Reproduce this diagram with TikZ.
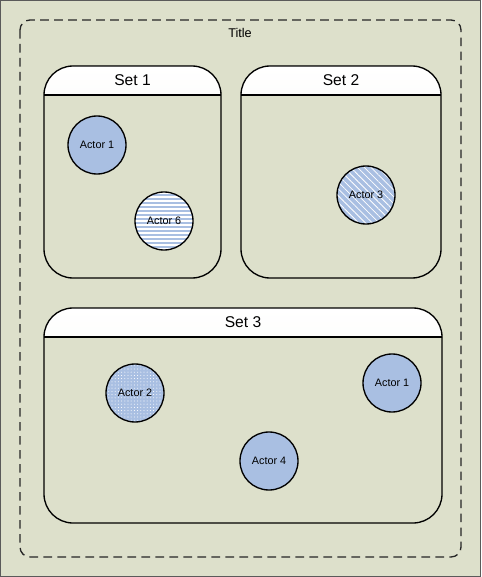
\documentclass[tikz,border=0pt]{standalone}
\usepackage{fontspec}
\setmainfont{Liberation Sans}
\usetikzlibrary{patterns.meta}
\definecolor{bgfill}{RGB}{221,224,203}
\definecolor{actorblue}{RGB}{169,191,226}
\definecolor{framegray}{RGB}{90,90,90}
\definecolor{hdrgray}{RGB}{238,240,232}
\tikzset{
actor/.style={circle,draw,line width=1pt,preaction={fill=actorblue},minimum size=43.5pt,inner sep=0pt,font=\fontsize{8.1}{9}\selectfont},
hstripes/.style={pattern={Lines[angle=0,distance=3pt,line width=1.2pt]},pattern color=white},
dstripes/.style={pattern={Lines[angle=-45,distance=3.6pt,line width=0.6pt]},pattern color=white},
dotted fill/.style={pattern={Dots[distance=2.4pt,radius=0.4pt]},pattern color=white},
setbox/.style={draw,line width=1pt,rounded corners=21.75pt},
sethdr/.style={rounded corners=21.75pt,top color=white,bottom color=hdrgray},
settext/.style={font=\fontsize{11.7}{13}\selectfont},
dashframe/.style={draw=black!85,line width=1pt,dash pattern=on 6.5pt off 4pt,rounded corners=7.5pt}
}
\begin{document}
\begin{tikzpicture}[x=0.75pt,y=-0.75pt]
\useasboundingbox (0,0) rectangle (481,577);
\fill[bgfill,draw=framegray,line width=1pt] (0.5,0.5) rectangle (480.5,576.5);
\draw[dashframe] (20,20) rectangle (461,557);
\node[font=\fontsize{9.5}{11}\selectfont] (title) at (240,33) {Title};
\pgfmathsetmacro{\hh}{29}
\foreach \nm/\xa/\xb/\ya/\yb/\lbl in {set1/44/221/66/278/Set 1,set2/241/441/66/278/Set 2,set3/44/442/308/523/Set 3}{
\begin{scope}
\clip (\xa,\ya-2) rectangle (\xb,\ya+\hh);
\fill[sethdr] (\xa,\yb) rectangle (\xb,\ya);
\end{scope}
\draw[setbox] (\xa,\yb) rectangle (\xb,\ya);
\draw[line width=1pt] (\xa,\ya+\hh)--(\xb,\ya+\hh);
\node[settext] (\nm) at ({(\xa+\xb)/2},\ya+\hh/2) {\lbl};
}
\node[actor] (actA) at (97,145) {Actor 1};
\node[actor,hstripes] (actF) at (164,221) {Actor 6};
\node[actor,dstripes] (actC) at (366,195) {Actor 3};
\node[actor,dotted fill] (actB) at (135,393) {Actor 2};
\node[actor] (actAA) at (392,383) {Actor 1};
\node[actor] (actD) at (269,461) {Actor 4};
\end{tikzpicture}
\end{document}
